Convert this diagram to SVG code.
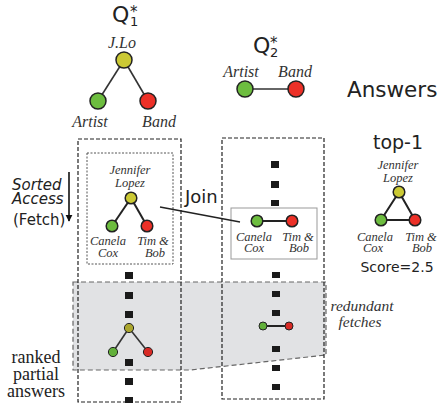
<svg xmlns="http://www.w3.org/2000/svg" width="440" height="411" viewBox="0 0 440 411">
<defs>
<style>
.sans{font-family:"DejaVu Sans",Verdana,sans-serif;fill:#222}
.it{font-family:"Liberation Serif","Times New Roman",serif;font-style:italic;fill:#333;text-anchor:middle}
.rm{font-family:"Liberation Serif","Times New Roman",serif;fill:#222;text-anchor:middle}
.y{fill:#cbc934;stroke:#222;stroke-width:1.5}
.g{fill:#6dbd3f;stroke:#222;stroke-width:1.5}
.r{fill:#ec3027;stroke:#222;stroke-width:1.5}
.yd{fill:#aba62e;stroke:#222;stroke-width:1}
.gd{fill:#62b03a;stroke:#222;stroke-width:1}
.rd{fill:#d82a25;stroke:#222;stroke-width:1}
.e{stroke:#333;stroke-width:1.6;fill:none}
.eb{stroke:#222;stroke-width:2;fill:none}
.col{fill:none;stroke:#222;stroke-width:1.2;stroke-dasharray:4 2}
.sq{fill:#1a1a1a}
</style>
<marker id="ah" viewBox="0 0 10 10" refX="9" refY="5" markerWidth="7" markerHeight="9" markerUnits="userSpaceOnUse" orient="auto">
<path d="M0,0 L10,5 L0,10 z" fill="#111"/>
</marker>
</defs>
<rect width="440" height="411" fill="#fff"/>

<g id="redundant-region">
<polygon points="73,282 326,282 326,355 190,370 73,370" fill="#e1e2e4" stroke="#666" stroke-width="1.2" stroke-dasharray="5 3"/>
</g>

<g id="q1">
<text class="sans" x="112" y="22" font-size="22">Q<tspan x="130" y="26" font-size="13">1</tspan><tspan x="130" y="17" font-size="15">*</tspan></text>
<text class="it" x="122" y="48" font-size="16">J.Lo</text>
<line class="e" x1="124" y1="60" x2="98" y2="101"/>
<line class="e" x1="124" y1="60" x2="148" y2="101"/>
<circle class="y" cx="124" cy="60" r="8"/>
<circle class="g" cx="98" cy="101" r="8"/>
<circle class="r" cx="148" cy="101" r="8"/>
<text class="it" x="90" y="127" font-size="16">Artist</text>
<text class="it" x="159" y="127" font-size="16">Band</text>
</g>

<g id="q2">
<text class="sans" x="253" y="53" font-size="22">Q<tspan x="270" y="57" font-size="13">2</tspan><tspan x="270" y="48" font-size="15">*</tspan></text>
<text class="it" x="241" y="77" font-size="16">Artist</text>
<text class="it" x="295" y="77" font-size="16">Band</text>
<line class="e" x1="245" y1="89" x2="296" y2="89"/>
<circle class="g" cx="245" cy="89" r="8"/>
<circle class="r" cx="296" cy="89" r="8"/>
</g>

<g id="answers-title">
<text class="sans" x="347" y="97" font-size="21.5">Answers</text>
</g>

<g id="sorted-access">
<text class="sans" x="12" y="190" font-size="15" font-style="italic">Sorted<tspan x="12" y="204">Access</tspan><tspan x="13" y="225" font-style="normal">(Fetch)</tspan></text>
<line x1="69" y1="172" x2="69" y2="221" stroke="#111" stroke-width="1.6" marker-end="url(#ah)"/>
</g>

<g id="left-column">
<rect class="col" x="78" y="139" width="103" height="263"/>
<rect x="87" y="153" width="86" height="111" fill="none" stroke="#555" stroke-width="1" stroke-dasharray="2 1.5"/>
<text class="it" x="130" y="174" font-size="12.5">Jennifer<tspan x="130" y="187">Lopez</tspan></text>
<line class="eb" x1="131" y1="198" x2="112" y2="226"/>
<line class="eb" x1="131" y1="198" x2="147" y2="226"/>
<circle class="y" cx="131" cy="198" r="5.8"/>
<circle class="g" cx="112" cy="226" r="5.8"/>
<circle class="r" cx="147" cy="226" r="5.8"/>
<text class="it" x="108" y="245" font-size="12.5">Canela<tspan x="108" y="257">Cox</tspan></text>
<text class="it" x="153" y="245" font-size="12.5">Tim &amp;<tspan x="155" y="257">Bob</tspan></text>
<rect class="sq" x="125" y="272" width="8" height="7"/>
<rect class="sq" x="125" y="292" width="8" height="7"/>
<rect class="sq" x="125" y="311" width="8" height="7"/>
<line class="e" stroke-width="1" x1="129" y1="328" x2="113" y2="352"/>
<line class="e" stroke-width="1" x1="129" y1="328" x2="148" y2="352"/>
<circle class="yd" cx="129" cy="328" r="4.6"/>
<circle class="gd" cx="113" cy="352" r="4.6"/>
<circle class="rd" cx="148" cy="352" r="4.6"/>
<rect class="sq" x="125" y="359" width="8" height="7"/>
<rect class="sq" x="125" y="378" width="8" height="7"/>
<rect class="sq" x="125" y="397" width="8" height="6"/>
</g>

<g id="middle-column">
<rect class="col" x="222" y="138" width="102" height="261"/>
<rect class="sq" x="271" y="161" width="8" height="7"/>
<rect class="sq" x="271" y="181" width="8" height="7"/>
<rect class="sq" x="271" y="200" width="8" height="6"/>
<rect x="231" y="208" width="86" height="51" fill="#fff" stroke="#999" stroke-width="1"/>
<line class="eb" x1="257" y1="221" x2="292" y2="221"/>
<circle class="g" cx="257" cy="221" r="5.8"/>
<circle class="r" cx="292" cy="221" r="5.8"/>
<text class="it" x="254" y="241" font-size="12.5">Canela<tspan x="254" y="252">Cox</tspan></text>
<text class="it" x="298" y="241" font-size="12.5">Tim &amp;<tspan x="299" y="252">Bob</tspan></text>
<rect class="sq" x="272" y="272" width="8" height="6"/>
<rect class="sq" x="272" y="291" width="8" height="6"/>
<rect class="sq" x="272" y="310" width="8" height="6"/>
<line class="eb" x1="263" y1="326" x2="289" y2="326"/>
<circle class="gd" cx="263" cy="326" r="4"/>
<circle class="rd" cx="289" cy="326" r="4"/>
<rect class="sq" x="272" y="346" width="8" height="6"/>
<rect class="sq" x="272" y="365" width="8" height="6"/>
<rect class="sq" x="272" y="384" width="8" height="6"/>
</g>

<g id="connectors">
<line x1="160" y1="207" x2="240" y2="222" stroke="#222" stroke-width="1.5"/>
</g>
<g id="join-label">
<text class="sans" x="185" y="203" font-size="18">Join</text>
</g>

<g id="redundant-label">
<text class="it" x="362" y="311" font-size="15.5">redundant<tspan x="360" y="327">fetches</tspan></text>
</g>

<g id="ranked-label">
<text class="rm" x="36" y="363" font-size="18">ranked<tspan x="36" y="380">partial</tspan><tspan x="36" y="397">answers</tspan></text>
</g>

<g id="top1">
<text class="sans" x="398" y="149" font-size="19" text-anchor="middle">top-1</text>
<text class="it" x="398" y="169" font-size="12.5">Jennifer<tspan x="398" y="182">Lopez</tspan></text>
<polygon points="399,192 381,220 415,220" class="eb"/>
<circle class="y" cx="399" cy="192" r="5.8"/>
<circle class="g" cx="381" cy="220" r="5.8"/>
<circle class="r" cx="415" cy="220" r="5.8"/>
<text class="it" x="375" y="241" font-size="12.5">Canela<tspan x="373" y="252">Cox</tspan></text>
<text class="it" x="421" y="241" font-size="12.5">Tim &amp;<tspan x="422" y="252">Bob</tspan></text>
<text class="sans" x="397" y="272" font-size="14" text-anchor="middle">Score=2.5</text>
</g>
</svg>
